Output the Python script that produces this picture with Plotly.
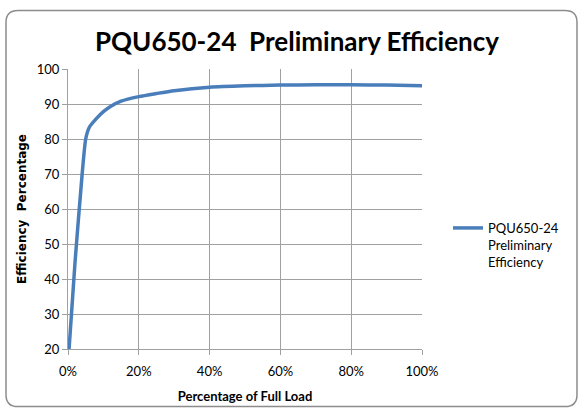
import plotly.graph_objects as go

load_pct = [0.3, 2, 4, 5, 6, 8, 10, 12, 15, 20, 25, 30, 40, 50, 60, 70, 80, 90, 100]
efficiency = [20, 45, 70, 80, 83.3, 85.8, 87.8, 89.3, 90.8, 92.1, 93.0, 93.8, 94.8, 95.2, 95.4, 95.5, 95.5, 95.4, 95.2]
series_name = "PQU650-24<br>Preliminary<br>Efficiency"
title = "PQU650-24  Preliminary Efficiency"
x_ticks = [0, 20, 40, 60, 80, 100]
x_tick_labels = ["0%", "20%", "40%", "60%", "80%", "100%"]
y_ticks = [20, 30, 40, 50, 60, 70, 80, 90, 100]

W, H = 583, 414
L, R, T, B = 68, 161, 69, 63
pw, ph = W - L - R, H - T - B

def px2paper(x, y):
    return (x - L) / pw, 1 - (y - T) / ph

fig = go.Figure()
fig.add_trace(go.Scatter(
    x=load_pct, y=efficiency, mode="lines", name=series_name,
    line=dict(color="#4a7ebb", width=3.5, shape="spline", smoothing=0.6),
))

# rounded chart border
x0, y0, x1, y1, r = 6, 10, 577, 409, 12
def P(x, y):
    a, b = px2paper(x, y)
    return f"{a:.5f},{b:.5f}"
path = (f"M {P(x0+r,y0)} L {P(x1-r,y0)} Q {P(x1,y0)} {P(x1,y0+r)} "
        f"L {P(x1,y1-r)} Q {P(x1,y1)} {P(x1-r,y1)} L {P(x0+r,y1)} "
        f"Q {P(x0,y1)} {P(x0,y1-r)} L {P(x0,y0+r)} Q {P(x0,y0)} {P(x0+r,y0)} Z")
fig.add_shape(type="path", path=path, xref="paper", yref="paper",
              line=dict(color="#8c8c8c", width=1.5), layer="below")

grid = "#a0a0a0"
fig.update_layout(
    width=W, height=H,
    margin=dict(l=L, r=R, t=T, b=B),
    paper_bgcolor="white", plot_bgcolor="white",
    font=dict(family="Lato, Carlito, Arial", size=13, color="black"),
    title=dict(text="<b>" + title + "</b>", x=297 / W, xanchor="center",
               y=1 - 42 / H, yanchor="middle", font=dict(size=26)),
    showlegend=True,
    legend=dict(x=px2paper(448, 0)[0], xanchor="left", y=px2paper(0, 214)[1], yanchor="top",
                font=dict(size=13), bgcolor="rgba(0,0,0,0)", valign="top",
                itemwidth=30, tracegroupgap=0),
    xaxis=dict(range=[0, 100], tickvals=x_ticks, ticktext=x_tick_labels,
               showgrid=True, gridcolor=grid, gridwidth=1,
               showline=True, linecolor=grid, linewidth=1,
               ticks="outside", ticklen=5, tickcolor=grid, ticklabelstandoff=5,
               zeroline=False, tickfont=dict(size=13),
               title=dict(text="<b>Percentage of Full Load</b>", font=dict(size=13), standoff=14)),
    yaxis=dict(range=[20, 100], tickvals=y_ticks,
               showgrid=True, gridcolor=grid, gridwidth=1,
               showline=True, linecolor=grid, linewidth=1,
               ticks="outside", ticklen=5, tickcolor=grid,
               zeroline=False, tickfont=dict(size=13),
               title=dict(text="<b>Efficiency  Percentage</b>",
                          font=dict(size=12, family="DejaVu Sans"), standoff=7)),
)

fig.write_html("out.html", config={"displayModeBar": False},
               post_script="document.body.style.margin='0';")
